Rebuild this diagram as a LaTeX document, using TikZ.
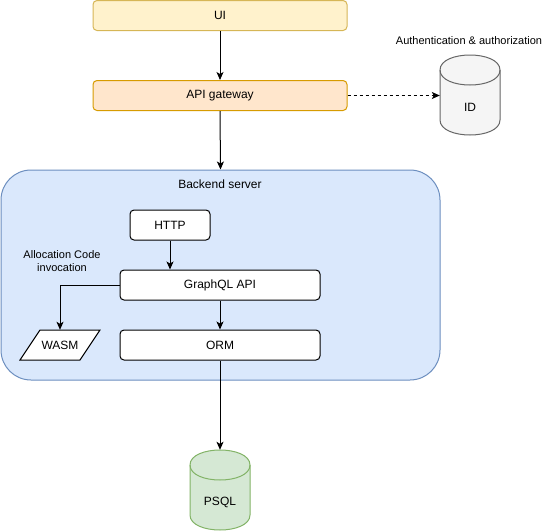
\documentclass[tikz,border=0pt]{standalone}
\usepackage{fontspec}
\setmainfont{Liberation Sans}
\usetikzlibrary{arrows.meta}
\definecolor{uifill}{HTML}{FFF2CC}
\definecolor{uidraw}{HTML}{D6B656}
\definecolor{gwfill}{HTML}{FFE6CC}
\definecolor{gwdraw}{HTML}{D79B00}
\definecolor{idfill}{HTML}{F5F5F5}
\definecolor{iddraw}{HTML}{666666}
\definecolor{befill}{HTML}{DAE8FC}
\definecolor{bedraw}{HTML}{6C8EBF}
\definecolor{pgfill}{HTML}{D5E8D4}
\definecolor{pgdraw}{HTML}{82B366}
\tikzset{
  txt/.style={font=\fontsize{12pt}{14pt}\selectfont, text=black, inner sep=0pt},
  smalltxt/.style={font=\fontsize{11pt}{13pt}\selectfont, text=black, inner sep=0pt, align=center},
  box/.style={txt, draw, line width=1pt, rounded corners=4pt, minimum height=30pt},
  ghost/.style={inner sep=0pt},
  arr/.style={line width=1pt, -{Stealth[length=8pt,width=7pt,inset=2pt]}},
  cyl/.style={line width=1pt}
}
\begin{document}
\begin{tikzpicture}[x=1pt,y=-1pt]
\useasboundingbox (0,0) rectangle (544,531);

% backend server container
\node[draw=bedraw, fill=befill, line width=1pt, rounded corners=30pt,
      minimum width=439pt, minimum height=210pt, inner sep=0pt] (backend) at (220.5,275) {};
\node[txt] (belabel) at (220,184) {Backend server};

% top boxes
\node[box, draw=uidraw, fill=uifill, minimum width=254pt] (ui) at (220,15.5) {UI};
\node[box, draw=gwdraw, fill=gwfill, minimum width=254pt] (api) at (220,95.5) {API gateway};

% ID cylinder
\draw[cyl, draw=iddraw, fill=idfill]
  (440,70) .. controls (440,50) and (500,50) .. (500,70)
  -- (500,120) .. controls (500,140) and (440,140) .. (440,120) -- cycle;
\draw[cyl, draw=iddraw] (440,70) .. controls (440,90) and (500,90) .. (500,70);
\node[ghost, minimum width=60pt, minimum height=80pt] (id) at (470,95) {};
\node[txt] (idlabel) at (470,107) {ID};
\node[smalltxt] (authlabel) at (469,41) {Authentication \& authorization};

% inner boxes
\node[box, fill=white, minimum width=80pt] (http) at (170,225) {HTTP};
\node[box, fill=white, minimum width=200pt] (gql) at (220,285) {GraphQL API};
\node[box, fill=white, minimum width=200pt] (orm) at (220,345) {ORM};

% WASM parallelogram
\draw[line width=1pt, fill=white] (20,360) -- (40,330) -- (100,330) -- (80,360) -- cycle;
\node[txt, minimum width=80pt, minimum height=30pt] (wasm) at (60,345) {WASM};
\node[smalltxt] (alloclabel) at (62,261.5) {Allocation Code\\invocation};

% PSQL cylinder
\draw[cyl, draw=pgdraw, fill=pgfill]
  (190,465) .. controls (190,445) and (250,445) .. (250,465)
  -- (250,515) .. controls (250,535) and (190,535) .. (190,515) -- cycle;
\draw[cyl, draw=pgdraw] (190,465) .. controls (190,485) and (250,485) .. (250,465);
\node[ghost, minimum width=60pt, minimum height=80pt] (psql) at (220,490) {};
\node[txt] (psqllabel) at (220,502) {PSQL};

% connectors
\draw[arr] (ui.south) -- (api.north);
\draw[arr, dashed, dash pattern=on 3pt off 3pt] (api.east) -- (api.east -| id.west);
\draw[arr] (api.south) -- (backend.north);
\draw[arr] (http.south) -- (http.south |- gql.north);
\draw[arr] (gql.west) -| (wasm.north);
\draw[arr] (gql.south) -- (orm.north);
\draw[arr] (orm.south) -- (psql.north);
\end{tikzpicture}
\end{document}
